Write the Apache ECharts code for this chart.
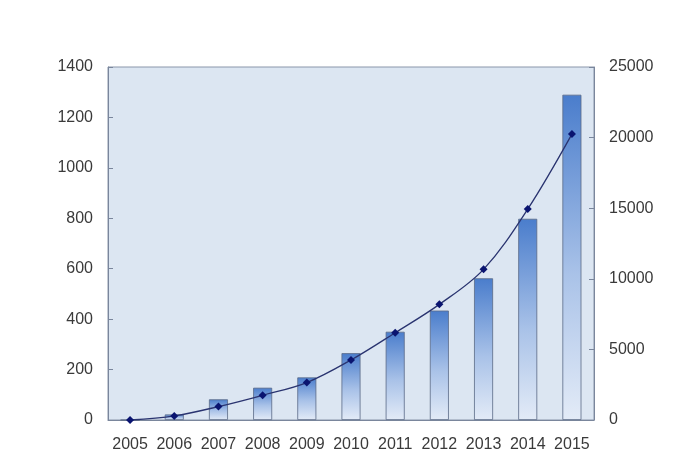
<!DOCTYPE html>
<html>
<head>
<meta charset="utf-8">
<script src="https://cdn.jsdelivr.net/npm/echarts@6/dist/echarts.min.js"></script>
<style>html,body{margin:0;padding:0;background:#fff}#c{width:697px;height:467px}</style>
</head>
<body>
<div id="c"></div>
<script>
const categories = ['2005','2006','2007','2008','2009','2010','2011','2012','2013','2014','2015'];
const barValues = [0, 22, 82, 128, 169, 265, 350, 434, 562, 798, 1290];
const lineValues = [0, 290, 950, 1750, 2650, 4250, 6180, 8190, 10670, 14940, 20250];
const leftTicks = {min: 0, max: 1400, interval: 200};
const rightTicks = {min: 0, max: 25000, interval: 5000};

const chart = echarts.init(document.getElementById('c'), null, {renderer: 'canvas'});
const labelStyle = {color: '#3a3a3a', fontSize: 16, fontFamily: 'Liberation Sans, Arial, sans-serif', formatter: v => String(v)};
chart.setOption({
  animation: false,
  backgroundColor: '#fff',
  grid: {left: 108, right: 103, top: 67, bottom: 47, show: true, backgroundColor: '#dce6f2', borderColor: '#8a96aa', borderWidth: 1},
  xAxis: {
    type: 'category', data: categories, boundaryGap: true,
    axisLine: {lineStyle: {color: '#7a869c'}},
    axisTick: {inside: true, length: 5, lineStyle: {color: '#7a869c'}},
    axisLabel: Object.assign({}, labelStyle, {margin: 17, interval: 0})
  },
  yAxis: [
    {type: 'value', min: leftTicks.min, max: leftTicks.max, interval: leftTicks.interval, position: 'left',
     axisLine: {show: true, lineStyle: {color: '#7a869c'}},
     axisTick: {show: true, inside: true, length: 5, lineStyle: {color: '#7a869c'}},
     splitLine: {show: false},
     axisLabel: Object.assign({}, labelStyle, {margin: 15})},
    {type: 'value', min: rightTicks.min, max: rightTicks.max, interval: rightTicks.interval, position: 'right',
     axisLine: {show: true, lineStyle: {color: '#7a869c'}},
     axisTick: {show: true, inside: true, length: 5, lineStyle: {color: '#7a869c'}},
     splitLine: {show: false},
     axisLabel: Object.assign({}, labelStyle, {margin: 15})}
  ],
  series: [
    {type: 'bar', data: barValues, yAxisIndex: 0, barWidth: 19,
     itemStyle: {borderColor: '#5b6a86', borderWidth: 0.8,
       color: new echarts.graphic.LinearGradient(0, 0, 0, 1, [
         {offset: 0, color: '#4a7dcc'}, {offset: 0.55, color: '#a9c2e8'}, {offset: 1, color: '#e3ebf7'}])}},
    {type: 'line', data: lineValues, yAxisIndex: 1, smooth: 0.35,
     symbol: 'diamond', symbolSize: 8,
     lineStyle: {color: '#2a3470', width: 1.3},
     itemStyle: {color: '#0a1470'}}
  ]
});
</script>
</body>
</html>
